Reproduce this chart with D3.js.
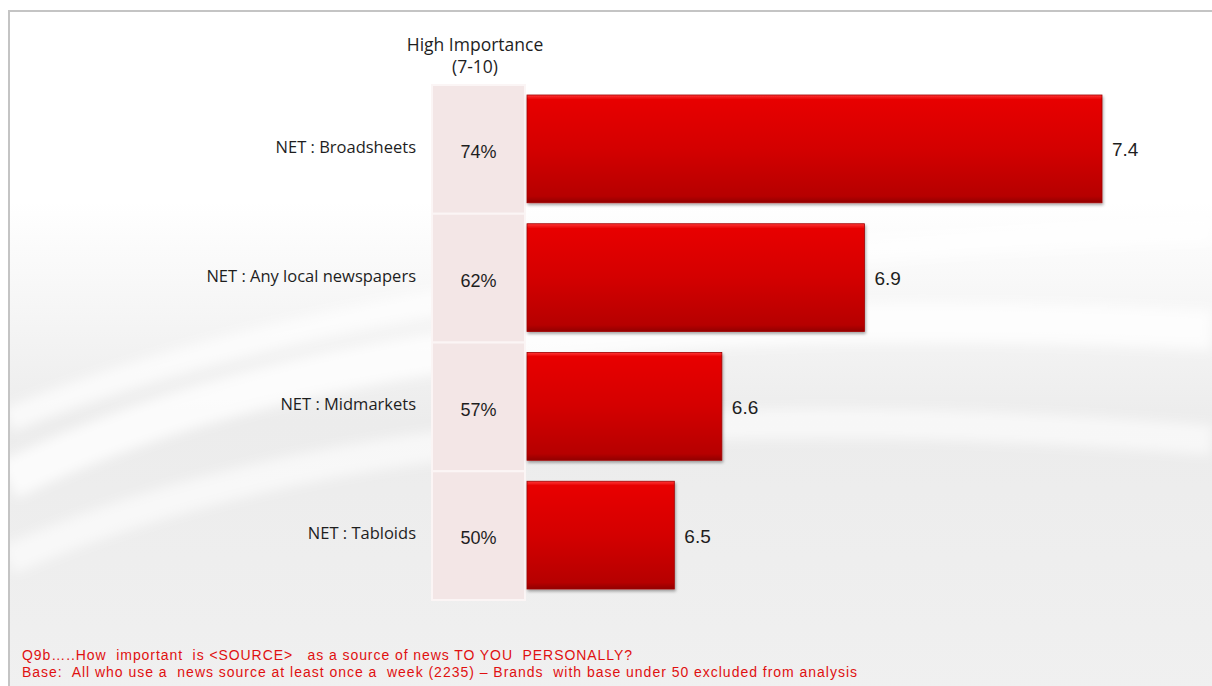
<!DOCTYPE html>
<html>
<head>
  <title>High importance of news sources</title>
  <style type="text/css">
    body { margin: 0; background: #fff; }
    svg { display: block; }
  </style>
</head>
<body>
<div id="chart"></div>
<script src="https://d3js.org/d3.v7.min.js"></script>
<script type="text/javascript">
var categories = ["NET : Broadsheets", "NET : Any local newspapers", "NET : Midmarkets", "NET : Tabloids"];
var meanScores = [7.4, 6.9, 6.6, 6.5];
var highImportance = ["74%", "62%", "57%", "50%"];
var footnotes = [
  "Q9b\u2026..How  important  is <SOURCE>   as a source of news TO YOU  PERSONALLY?",
  "Base:  All who use a  news source at least once a  week (2235) \u2013 Brands  with base under 50 excluded from analysis"
];
var footWidths = [610, 835];

var width = 1212, height = 686;
var data = categories.map((c, i) => ({ cat: c, val: meanScores[i], pct: highImportance[i] }));

var svg = d3.select("#chart").append("svg")
  .attr("width", width)
  .attr("height", height);

var defs = svg.append("defs");

var bg = defs.append("linearGradient").attr("id", "bg")
  .attr("x1", 0).attr("y1", 0).attr("x2", 0).attr("y2", 1);
bg.append("stop").attr("offset", "0%").attr("stop-color", "#ffffff");
bg.append("stop").attr("offset", "28%").attr("stop-color", "#ffffff");
bg.append("stop").attr("offset", "60%").attr("stop-color", "#ececec");
bg.append("stop").attr("offset", "100%").attr("stop-color", "#f0f0f0");

var barGrad = defs.append("linearGradient").attr("id", "bar")
  .attr("x1", 0).attr("y1", 0).attr("x2", 0).attr("y2", 1);
barGrad.append("stop").attr("offset", "0%").attr("stop-color", "#ff3838");
barGrad.append("stop").attr("offset", "4%").attr("stop-color", "#e80000");
barGrad.append("stop").attr("offset", "50%").attr("stop-color", "#d40000");
barGrad.append("stop").attr("offset", "94%").attr("stop-color", "#b60000");
barGrad.append("stop").attr("offset", "100%").attr("stop-color", "#920000");

var shadow = defs.append("filter").attr("id", "shadow")
  .attr("x", "-5%").attr("y", "-5%").attr("width", "115%").attr("height", "120%");
shadow.append("feDropShadow").attr("dx", 1).attr("dy", 2).attr("stdDeviation", 1.5)
  .attr("flood-color", "#000").attr("flood-opacity", 0.35);

var blur = defs.append("filter").attr("id", "blur");
blur.append("feGaussianBlur").attr("stdDeviation", 6);

// background
svg.append("rect").attr("x", 8).attr("y", 10).attr("width", width).attr("height", height)
  .attr("fill", "url(#bg)");

var swoosh = svg.append("g").attr("filter", "url(#blur)").attr("fill", "none").attr("stroke", "#fff");
swoosh.append("path").attr("d", "M8,480 C250,360 600,300 1212,330").attr("stroke-width", 40).attr("stroke-opacity", 0.8);
swoosh.append("path").attr("d", "M8,560 C300,430 700,400 1212,440").attr("stroke-width", 30).attr("stroke-opacity", 0.6);
swoosh.append("path").attr("d", "M8,420 C300,300 700,250 1212,230").attr("stroke-width", 25).attr("stroke-opacity", 0.7);

svg.append("path").attr("d", "M9,686 V11 H1212")
  .attr("fill", "none").attr("stroke", "#c4c4c4").attr("stroke-width", 2);

// scales
var y = d3.scaleBand().domain(categories).range([85, 600]).paddingInner(0);
var x = d3.scaleLinear().domain([6.19, 7.4]).range([527, 1102]);

// percent column
var col = { x0: 432, x1: 525 };
svg.append("g").selectAll("rect").data(data).join("rect")
  .attr("x", col.x0)
  .attr("y", d => y(d.cat))
  .attr("width", col.x1 - col.x0)
  .attr("height", y.bandwidth())
  .attr("fill", "#f3e6e6")
  .attr("stroke", "#fbf5f5")
  .attr("stroke-width", 2);

svg.append("g").selectAll("text").data(data).join("text")
  .attr("x", (col.x0 + col.x1) / 2)
  .attr("y", d => y(d.cat) + y.bandwidth() / 2 + 4)
  .attr("text-anchor", "middle")
  .attr("dominant-baseline", "middle")
  .style("font", "18px 'Liberation Sans', Arial, sans-serif")
  .attr("fill", "#1e1e1e")
  .text(d => d.pct);

svg.append("text")
  .attr("x", 475).attr("y", 51)
  .attr("text-anchor", "middle")
  .style("font", "17.5px 'Open Sans', Lato, sans-serif")
  .attr("fill", "#1e1e1e")
  .selectAll("tspan").data(["High Importance", "(7-10)"]).join("tspan")
  .attr("x", 475).attr("dy", (d, i) => i ? 22 : 0)
  .text(d => d);

// category labels
svg.append("g").selectAll("text").data(data).join("text")
  .attr("x", 416)
  .attr("y", d => y(d.cat) + y.bandwidth() / 2 - 1)
  .attr("text-anchor", "end")
  .attr("dominant-baseline", "middle")
  .style("font", "16.5px 'Open Sans', Lato, sans-serif")
  .attr("fill", "#1e1e1e")
  .text(d => d.cat);

// bars
var barPad = 10;
svg.append("g").selectAll("rect").data(data).join("rect")
  .attr("x", x.range()[0])
  .attr("y", d => y(d.cat) + barPad)
  .attr("width", d => x(d.val) - x.range()[0])
  .attr("height", y.bandwidth() - 2 * barPad - 1)
  .attr("fill", "url(#bar)")
  .attr("stroke", "#a00000")
  .attr("stroke-width", 0.8)
  .attr("filter", "url(#shadow)");

svg.append("g").selectAll("text").data(data).join("text")
  .attr("x", d => x(d.val) + 10)
  .attr("y", d => y(d.cat) + y.bandwidth() / 2 + 2)
  .attr("dominant-baseline", "middle")
  .style("font", "19px 'Liberation Sans', Arial, sans-serif")
  .attr("fill", "#1e1e1e")
  .text(d => d.val.toFixed(1));

// footnotes
svg.append("g").selectAll("text").data(footnotes).join("text")
  .attr("x", 22)
  .attr("y", (d, i) => 660 + i * 17)
  .attr("textLength", (d, i) => footWidths[i])
  .attr("lengthAdjust", "spacing")
  .style("font", "14px 'Liberation Sans', Arial, sans-serif")
  .attr("fill", "#e01010")
  .attr("xml:space", "preserve")
  .style("white-space", "pre")
  .text(d => d);
</script>
</body>
</html>
